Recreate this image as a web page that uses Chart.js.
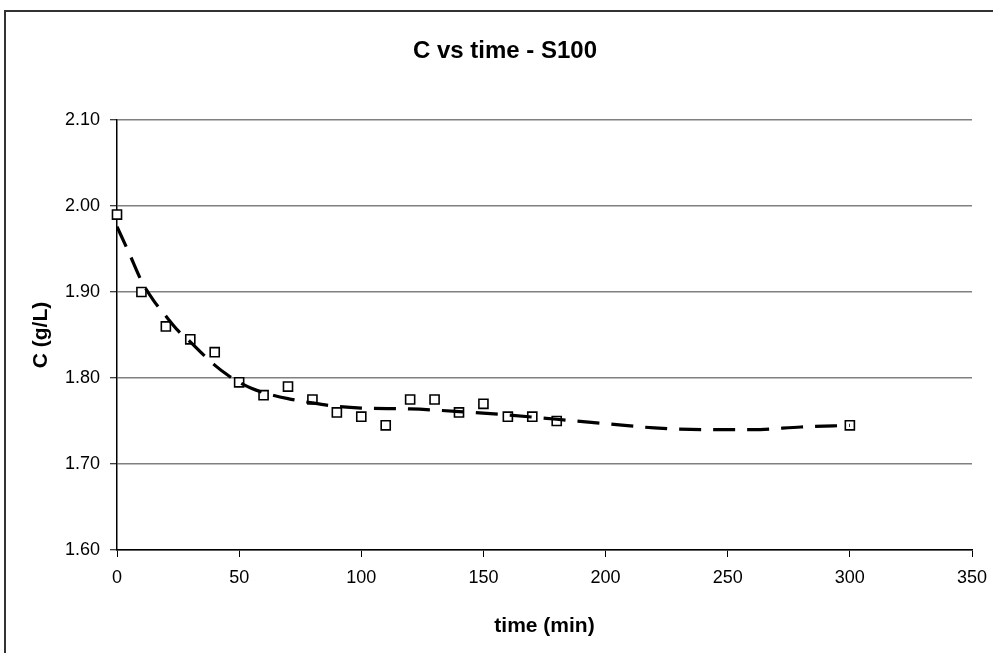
<!DOCTYPE html>
<html lang="en">
<head>
  <meta charset="UTF-8">
  <title>C vs time - S100</title>
  <script src="https://cdn.jsdelivr.net/npm/chart.js"></script>
  <style>
    body {
      margin: 0;
      background: #fff;
    }
    .wrap {
      position: relative;
      width: 993px;
      height: 653px;
      overflow: hidden;
    }
    .frame {
      position: absolute;
      left: 4px;
      top: 10px;
      width: 1000px;
      height: 700px;
      border-top: 2px solid #333;
      border-left: 2px solid #333;
      pointer-events: none;
    }
    canvas {
      position: absolute;
      left: 0;
      top: 0;
    }
  </style>
</head>
<body>

<div class="wrap">
  <canvas id="chart" width="993" height="653"></canvas>
  <div class="frame"></div>
</div>

<script>
  const chartTitle = "C vs time - S100";
  const xTitle = "time (min)";
  const yTitle = "C (g/L)";

  // measured points
  const timeMin = [0, 10, 20, 30, 40, 50, 60, 70, 80, 90, 100, 110, 120, 130, 140, 150, 160, 170, 180, 300];
  const concGL = [1.99, 1.90, 1.86, 1.845, 1.83, 1.795, 1.78, 1.79, 1.775, 1.76, 1.755, 1.745, 1.775, 1.775, 1.76, 1.77, 1.755, 1.755, 1.75, 1.745];

  // dashed trend line
  const trendTime = [0, 5, 10, 15, 20, 25, 30, 35, 40, 45, 50, 55, 60, 70, 80, 90, 100, 120, 140, 160, 180, 200, 220, 240, 260, 280, 300];
  const trendC = [1.976, 1.945, 1.913, 1.890, 1.872, 1.855, 1.842, 1.828, 1.815, 1.804, 1.795, 1.788, 1.783, 1.776, 1.771, 1.767, 1.765, 1.764, 1.761, 1.757, 1.752, 1.747, 1.742, 1.740, 1.740, 1.743, 1.745];

  const xMin = 0, xMax = 350, xStep = 50;
  const yMin = 1.6, yMax = 2.1, yStep = 0.1;

  const fontFamily = "'Liberation Sans', Arial, sans-serif";

  const toXY = (xs, ys) => xs.map((x, i) => ({ x: x, y: ys[i] }));

  // title drawn by hand so it sits where Excel put it
  const titlePlugin = {
    id: "excelTitle",
    afterDraw(chart) {
      const ctx = chart.ctx;
      ctx.save();
      ctx.font = "bold 24px " + fontFamily;
      ctx.fillStyle = "#000";
      ctx.textAlign = "center";
      ctx.textBaseline = "middle";
      ctx.fillText(chartTitle, 505, 51);
      ctx.restore();
    }
  };

  new Chart(document.getElementById("chart"), {
    type: "scatter",
    data: {
      datasets: [
        {
          label: "trend",
          data: toXY(trendTime, trendC),
          showLine: true,
          borderColor: "#000",
          borderWidth: 3.2,
          borderDash: [22, 12],
          cubicInterpolationMode: "monotone",
          pointRadius: 0,
          order: 0
        },
        {
          label: "C",
          data: toXY(timeMin, concGL),
          showLine: false,
          clip: false,
          pointStyle: "rect",
          pointRadius: 6.4,
          pointBorderWidth: 1.6,
          pointBorderColor: "#000",
          pointBackgroundColor: "#fff",
          order: 1
        }
      ]
    },
    options: {
      responsive: false,
      animation: false,
      layout: { padding: { left: 0, top: 120, right: 21, bottom: 0 } },
      plugins: {
        legend: { display: false },
        title: { display: false },
        tooltip: { enabled: false }
      },
      scales: {
        x: {
          type: "linear",
          min: xMin,
          max: xMax,
          afterFit: scale => {
            scale.height = 103;
            scale.paddingRight = 0;
          },
          ticks: {
            stepSize: xStep,
            color: "#000",
            padding: 10,
            maxRotation: 0,
            font: { family: fontFamily, size: 18 }
          },
          grid: {
            drawOnChartArea: false,
            tickLength: 7,
            tickColor: "#000",
            tickWidth: 1
          },
          border: { color: "#000", width: 1.5 },
          title: {
            display: true,
            text: xTitle,
            color: "#000",
            padding: { top: 0, bottom: 14 },
            font: { family: fontFamily, size: 21, weight: "bold" }
          }
        },
        y: {
          min: yMin,
          max: yMax,
          afterFit: scale => { scale.width = 117; },
          ticks: {
            stepSize: yStep,
            color: "#000",
            padding: 10,
            font: { family: fontFamily, size: 18 },
            callback: v => v.toFixed(2)
          },
          grid: {
            color: "#808080",
            lineWidth: 1.5,
            tickLength: 7,
            tickColor: "#000",
            tickWidth: 1
          },
          border: { color: "#000", width: 1.5 },
          title: {
            display: true,
            text: yTitle,
            color: "#000",
            padding: { top: 29, bottom: 0 },
            font: { family: fontFamily, size: 21, weight: "bold" }
          }
        }
      }
    },
    plugins: [titlePlugin]
  });
</script>

</body>
</html>
